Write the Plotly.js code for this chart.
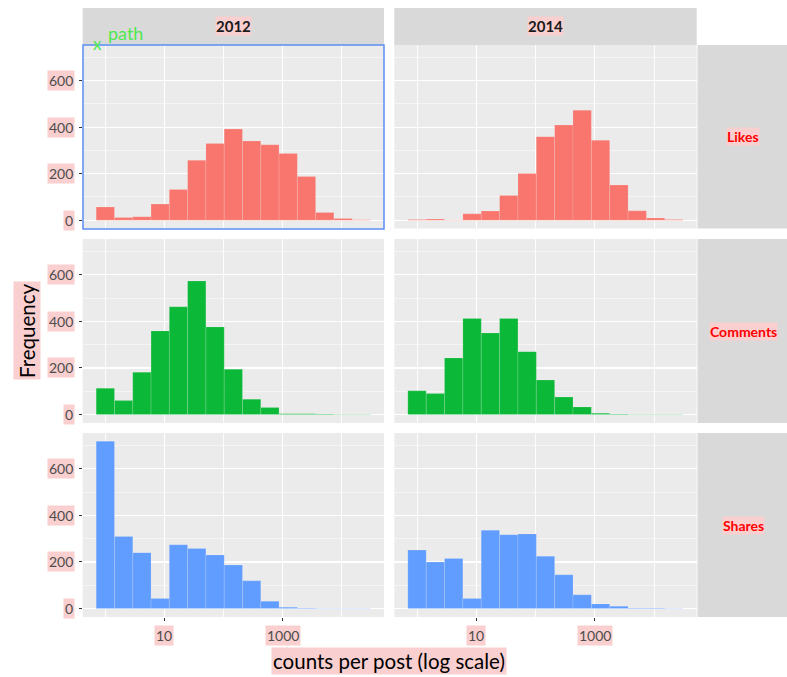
<!DOCTYPE html>
<html>
<head>
<meta charset="utf-8">
<script src="https://cdn.plot.ly/plotly-3.0.1.min.js"></script>
<style>html,body{margin:0;padding:0;background:#fff;}#chart{width:787px;height:677px;}</style>
</head>
<body>
<div id="chart"></div>
<script>
// bin centres of the histogram, in log10(counts per post)
const binCenters = [0.000, 0.310, 0.619, 0.929, 1.238, 1.548, 1.858, 2.167, 2.477, 2.786, 3.096, 3.406, 3.715, 4.025, 4.334];
const binWidth = 0.3096;
const years = ["2012", "2014"];
const metrics = ["Likes", "Comments", "Shares"];
const xTickVals = [1, 3];
const xTickText = ["10", "1000"];
const yTickVals = [0, 200, 400, 600];

const likes2012    = [56, 11, 14, 69, 132, 257, 330, 392, 340, 324, 287, 188, 33, 7, 2];
const likes2014    = [3, 5, 1, 27, 39, 106, 201, 359, 409, 472, 343, 151, 40, 9, 3];
const comments2012 = [113, 60, 182, 359, 462, 573, 376, 195, 66, 30, 4, 4, 3, 2, 2];
const comments2014 = [102, 90, 243, 412, 350, 412, 270, 148, 75, 33, 6, 3, 1, 1, 1];
const shares2012   = [718, 309, 240, 43, 274, 258, 230, 187, 119, 32, 6, 3, 2, 1, 1];
const shares2014   = [251, 200, 215, 43, 336, 317, 320, 224, 145, 59, 20, 10, 3, 3, 2];

const seriesGrid = [
  [likes2012, likes2014],
  [comments2012, comments2014],
  [shares2012, shares2014]
];
const colors = ["#F8766D", "#0CB838", "#619CFF"];

const W = 787, H = 677;
const colPx = [[82.7, 384.0], [394.3, 696.7]];
const rowPx = [[45, 228.5], [239, 423], [433, 617]];
const px2x = p => p / W;
const px2y = p => 1 - p / H;

const xRange = [-0.383, 4.718];
const yRange = [-36, 753];
const pink = "#f9cfcf";
const FONT = "Lato, 'Open Sans', sans-serif";

const data = [];
const layout = {
  width: W, height: H,
  margin: {l: 0, r: 0, t: 0, b: 0},
  paper_bgcolor: "#ffffff",
  plot_bgcolor: "#ebebeb",
  showlegend: false,
  bargap: 0,
  font: {family: FONT, color: "#4d4d4d"},
  shapes: [],
  annotations: []
};

for (let r = 0; r < 3; r++) {
  for (let c = 0; c < 2; c++) {
    const idx = r * 2 + c + 1;
    const xa = idx === 1 ? "x" : "x" + idx;
    const ya = idx === 1 ? "y" : "y" + idx;
    data.push({
      type: "bar",
      x: binCenters,
      y: seriesGrid[r][c],
      width: binWidth,
      xaxis: xa, yaxis: ya,
      marker: {color: colors[r], line: {color: "rgba(255,255,255,0.25)", width: 0.6}},
      hoverinfo: "x+y"
    });
    const bottom = r === 2;
    const left = c === 0;
    layout["xaxis" + (idx === 1 ? "" : idx)] = {
      domain: [px2x(colPx[c][0]), px2x(colPx[c][1])],
      anchor: ya,
      range: xRange,
      tickmode: "array", tickvals: xTickVals,
      showticklabels: false,
      ticks: bottom ? "outside" : "", ticklen: 3, tickwidth: 1, tickcolor: "#333333",
      showgrid: true, gridcolor: "#ffffff", gridwidth: 1.1,
      minor: {tickmode: "array", tickvals: [0, 2, 4], showgrid: true, gridcolor: "#ffffff", gridwidth: 0.9, ticks: ""},
      zeroline: false, showline: false, fixedrange: true
    };
    layout["yaxis" + (idx === 1 ? "" : idx)] = {
      domain: [px2y(rowPx[r][1]), px2y(rowPx[r][0])],
      anchor: xa,
      range: yRange,
      tickmode: "array", tickvals: yTickVals,
      showticklabels: false,
      ticks: left ? "outside" : "", ticklen: 3, tickwidth: 1, tickcolor: "#333333",
      showgrid: true, gridcolor: "#ffffff", gridwidth: 1.1,
      minor: {tickmode: "array", tickvals: [100, 300, 500, 700], showgrid: true, gridcolor: "#ffffff", gridwidth: 0.5, ticks: ""},
      zeroline: false, showline: false, fixedrange: true
    };
    // y tick labels (left column)
    if (left) {
      yTickVals.forEach(v => {
        layout.annotations.push({
          xref: "paper", yref: ya, x: px2x(75), y: v,
          xanchor: "right", yanchor: "middle", showarrow: false,
          text: String(v), bgcolor: pink, borderpad: 1,
          font: {family: FONT, size: 14, color: "#4d4d4d"}
        });
      });
    }
    // x tick labels (bottom row)
    if (bottom) {
      xTickVals.forEach((v, i) => {
        layout.annotations.push({
          xref: xa, yref: "paper", x: v, y: px2y(625),
          xanchor: "center", yanchor: "top", showarrow: false,
          text: xTickText[i], bgcolor: pink, borderpad: 1,
          font: {family: FONT, size: 14, color: "#4d4d4d"}
        });
      });
    }
  }
}

// column strips
years.forEach((yr, c) => {
  layout.shapes.push({
    type: "rect", xref: "paper", yref: "paper", layer: "below",
    x0: px2x(colPx[c][0]), x1: px2x(colPx[c][1]), y0: px2y(45), y1: px2y(8),
    fillcolor: "#d9d9d9", line: {width: 0}
  });
  layout.annotations.push({
    xref: "paper", yref: "paper",
    x: px2x((colPx[c][0] + colPx[c][1]) / 2), y: px2y(26.5),
    xanchor: "center", yanchor: "middle", showarrow: false,
    text: "<b>" + yr + "</b>", bgcolor: pink, borderpad: 0,
    font: {family: FONT, size: 15, color: "#1a1a1a"}
  });
});
// row strips
metrics.forEach((m, r) => {
  layout.shapes.push({
    type: "rect", xref: "paper", yref: "paper", layer: "below",
    x0: px2x(697.5), x1: px2x(787), y0: px2y(rowPx[r][1]), y1: px2y(rowPx[r][0]),
    fillcolor: "#d9d9d9", line: {width: 0}
  });
  layout.annotations.push({
    xref: "paper", yref: "paper",
    x: px2x(743), y: px2y((rowPx[r][0] + rowPx[r][1]) / 2),
    xanchor: "center", yanchor: "middle", showarrow: false,
    text: "<b>" + m + "</b>", bgcolor: pink, borderpad: 0,
    font: {family: FONT, size: 14, color: "#ff0000"}
  });
});

// highlight box round top-left panel
layout.shapes.push({
  type: "rect", xref: "paper", yref: "paper", layer: "above",
  x0: px2x(83), x1: px2x(384), y0: px2y(229), y1: px2y(45),
  fillcolor: "rgba(0,0,0,0)", line: {color: "#5b8ef5", width: 1.5}
});

// axis titles
layout.annotations.push({
  xref: "paper", yref: "paper", x: px2x(27), y: px2y(331),
  xanchor: "center", yanchor: "middle", showarrow: false, textangle: -90,
  text: "Frequency", bgcolor: pink, borderpad: 1,
  font: {family: FONT, size: 20.5, color: "#000000"}
});
layout.annotations.push({
  xref: "paper", yref: "paper", x: px2x(389), y: px2y(661),
  xanchor: "center", yanchor: "middle", showarrow: false,
  text: "counts per post (log scale)", bgcolor: pink, borderpad: 1,
  font: {family: FONT, size: 20.5, color: "#000000"}
});

// green "x path" marker
layout.annotations.push({
  xref: "paper", yref: "paper", x: px2x(97), y: px2y(44),
  xanchor: "center", yanchor: "middle", showarrow: false,
  text: "x", font: {family: FONT, size: 17, color: "#4ee84e"}
});
layout.annotations.push({
  xref: "paper", yref: "paper", x: px2x(125), y: px2y(33),
  xanchor: "center", yanchor: "middle", showarrow: false,
  text: "path", font: {family: FONT, size: 18, color: "#4ee84e"}
});

Plotly.newPlot("chart", data, layout, {staticPlot: true, displayModeBar: false});
</script>
</body>
</html>
